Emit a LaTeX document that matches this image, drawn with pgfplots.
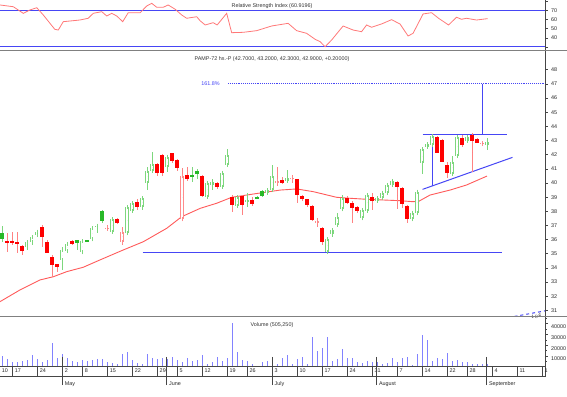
\documentclass[border=0pt]{standalone}
\usepackage{pgfplots}
\pgfplotsset{compat=1.18}
\usepackage{pgfplotstable}
\usepackage{fontspec}
\setmainfont{Liberation Sans}
\definecolor{ghc}{RGB}{125,215,125}
\definecolor{gfc}{RGB}{40,185,40}
\definecolor{rfc}{RGB}{255,0,0}
\definecolor{rwick}{RGB}{255,130,130}
\definecolor{rhc}{RGB}{255,140,140}
\definecolor{bl}{RGB}{70,70,245}
\definecolor{volc}{RGB}{130,130,255}
\definecolor{mac}{RGB}{255,90,90}
\definecolor{rsic}{RGB}{255,120,120}
\definecolor{axc}{RGB}{70,70,70}
\definecolor{sepc}{RGB}{128,128,128}

% green hollow candles: slot, low, high, body low, body high
\pgfplotstableread{
x lo hi blo bhi
3 35.27 35.97 35.45 35.80
4 35.60 36.33 35.85 36.16
5 36.16 36.70 36.33 36.56
10 33.86 35.50 34.53 35.30
11 35.10 35.80 35.20 35.70
14 35.00 35.95 35.10 35.90
16 35.97 36.90 36.03 36.80
17 36.50 37.10 36.94 36.98
20 36.40 37.55 36.56 37.44
23 36.40 38.35 36.45 38.30
24 37.90 38.65 38.04 38.57
26 38.10 39.10 38.33 38.92
27 39.50 41.15 40.02 40.87
28 40.80 42.20 40.87 41.32
31 40.80 41.98 41.10 41.86
39 38.95 40.10 39.03 40.00
40 39.50 40.30 39.86 40.09
42 39.60 40.80 39.74 40.73
43 41.15 42.38 41.27 41.98
45 38.28 39.15 38.38 38.99
47 38.33 39.27 38.73 38.77
51 39.20 39.60 39.30 39.50
52 39.40 41.27 39.50 40.50
55 40.00 40.92 40.16 40.37
63 35.08 36.16 35.15 36.03
64 36.20 36.80 36.40 36.68
65 36.96 37.90 37.03 37.58
66 38.10 39.15 38.14 38.92
70 37.45 38.20 37.50 38.09
71 37.95 39.25 38.04 39.15
73 38.60 39.00 38.75 38.92
74 38.85 39.40 38.92 39.31
75 39.20 39.95 39.27 39.86
76 39.80 40.20 39.86 40.14
80 37.35 38.00 37.44 37.90
81 37.80 39.45 37.86 39.39
82 40.64 42.56 41.39 42.38
83 42.40 42.90 42.56 42.75
84 42.60 43.40 42.68 43.32
88 40.60 41.90 40.64 41.50
89 41.85 43.30 41.91 43.23
91 42.90 43.30 42.99 43.23
95 42.30 43.20 42.70 42.90
}\gh
% green filled candles
\pgfplotstableread{
x lo hi blo bhi
-2 35.85 36.95 36.03 36.50
13 35.30 36.00 35.74 35.97
15 35.85 36.00 35.86 35.94
18 37.20 38.10 37.34 38.04
36 40.10 41.10 40.44 40.56
37 40.30 41.00 40.64 40.85
49 38.90 39.10 38.92 39.02
50 39.00 39.50 39.10 39.40
}\gf
% red filled candles
\pgfplotstableread{
x lo hi blo bhi
-1 35.15 36.50 35.78 35.90
0 35.60 36.55 35.78 35.90
1 35.03 36.55 35.72 35.85
2 34.90 35.60 35.20 35.55
6 35.50 37.00 36.16 36.90
7 35.03 35.97 35.08 35.83
8 33.36 34.90 34.20 34.80
9 33.70 34.30 34.06 34.25
12 35.60 35.95 35.70 35.90
21 37.10 37.55 37.20 37.48
25 38.10 38.90 38.33 38.68
29 40.50 41.40 40.68 41.34
30 40.50 42.05 40.68 41.96
32 41.39 42.14 41.55 42.10
33 40.87 41.67 41.04 41.62
35 40.16 41.13 40.26 40.56
38 39.00 40.60 39.08 40.50
41 39.60 40.05 39.74 39.98
44 37.97 39.15 38.45 39.03
46 37.74 39.15 38.45 39.08
48 38.40 39.00 38.50 38.80
54 39.90 40.40 40.00 40.20
57 38.56 40.30 39.15 40.26
58 38.70 39.15 38.85 39.08
59 38.30 38.90 38.45 38.85
60 37.30 38.45 37.39 38.38
62 35.62 36.91 35.85 36.80
67 38.50 39.10 38.61 38.92
68 37.15 38.70 38.26 38.61
69 37.90 38.35 38.04 38.28
72 38.10 39.27 38.75 39.03
77 38.14 40.15 39.70 40.09
78 38.20 39.74 38.52 39.63
79 37.15 38.45 37.44 38.38
85 42.10 43.30 42.14 43.23
86 41.45 43.10 41.50 43.04
87 40.33 41.50 40.68 41.27
90 42.56 43.39 42.68 43.16
92 40.80 43.50 42.99 43.39
93 42.80 43.15 42.85 43.09
}\rf
% red hollow candles
\pgfplotstableread{
x lo hi blo bhi
19 36.60 37.00 36.78 36.82
22 35.60 36.90 35.85 36.56
34 37.40 41.04 37.44 40.49
53 39.80 41.10 40.08 40.12
56 40.00 40.60 40.31 40.35
61 36.91 37.50 37.25 37.29
94 42.60 43.00 42.78 42.82
}\rh
% moving average
\pgfplotstableread{
x y
-2.46 31.62
1.5 32.44
5.5 33.15
8.2 33.38
10.9 33.74
14.2 34.05
17.5 34.56
22.2 35.27
26.2 35.85
30.9 36.80
33.9 37.62
37.6 38.21
40.9 38.57
43.9 38.99
46.9 39.15
49.9 39.31
53.6 39.50
56.9 39.58
60.2 39.39
62.2 39.22
64.9 38.99
67.6 38.92
70.9 38.85
74.2 38.80
77.6 38.75
80.2 38.68
81.4 38.72
83.6 39.15
87.6 39.50
90.9 39.86
95 40.49
}\ma
% RSI
\pgfplotstableread{
x y
-2.46 75.8
0.2 73.9
2.2 66.7
3.5 70.3
4.9 72.8
6.2 64.9
8.5 49.3
9.2 48.5
10.2 57.6
13.5 59.4
15.2 61.3
16.2 66.7
17.9 68.5
18.9 63.8
19.9 66.7
20.9 63.8
22.1 57.6
23.2 67.4
25.6 67.4
26.9 74.7
27.9 77.6
28.9 73.3
30.2 73.3
31.2 75.8
32.6 71.1
33.9 64.9
34.9 61.3
36.9 63.0
37.6 58.5
38.6 54.0
40.2 56.5
41.0 54.0
42.9 66.7
43.9 45.6
46.2 46.0
48.9 47.8
51.9 52.9
55.2 55.8
56.9 47.8
58.9 44.9
60.6 38.4
61.6 35.8
62.6 30.3
63.9 37.6
66.2 52.9
68.2 48.5
69.9 46.7
70.9 54.0
71.9 51.5
73.9 55.1
75.9 59.8
77.6 55.0
79.2 42.0
80.2 44.9
82.2 66.0
83.9 67.4
85.3 61.3
87.3 54.0
88.9 62.4
89.9 60.2
90.9 61.3
92.9 59.4
95.1 60.9
}\rsi
% volume
\pgfplotstableread{
x v
-2 10120
-1 7080
0 4880
1 4880
2 5800
3 6440
4 11040
5 7080
6 4880
7 6440
8 22360
9 8000
10 11680
11 8000
12 5800
13 4320
14 6440
15 5800
16 6440
17 7080
18 7360
19 4320
20 3960
21 2760
22 11960
23 13520
24 6440
25 3400
26 2760
27 11680
28 8000
29 7360
30 8000
31 7080
32 9200
33 6440
34 4880
35 8000
36 5800
37 6440
38 11040
39 2760
40 4320
41 8920
42 5520
43 8000
44 40760
45 14080
46 6440
47 5800
48 2760
50 4320
51 5520
52 8920
53 2760
54 8000
55 11040
56 2760
57 7080
58 9480
59 2760
60 27320
61 14720
62 17200
63 27880
64 5800
65 7080
66 16280
67 8000
68 8000
69 4320
70 3400
71 5800
72 4320
73 4320
74 2760
75 3960
76 8000
77 4880
78 8000
79 9480
80 1840
81 11680
82 29440
83 24840
84 5520
85 8000
86 7080
87 13160
88 5800
89 6440
90 4880
91 4320
92 2760
93 2760
94 2760
95 2760
}\vol

\newcommand\lbl{\fontsize{5.4}{6}\selectfont}
\pgfplotsset{
  nomark/.style={only marks, mark=*, mark size=0pt, mark options={draw=none, fill=none}},
}
\newcommand\wicks[2]{%
 \addplot[nomark, error bars/.cd, y dir=both, y explicit, error mark=none,
   error bar style={draw=#2, line width=0.9pt}]
  table[x=x, y expr={(\thisrow{hi}+\thisrow{lo})/2}, y error expr={(\thisrow{hi}-\thisrow{lo})/2}] {#1};}
\newcommand\bodies[3]{%
 \addplot[nomark, error bars/.cd, y dir=both, y explicit, error mark=none,
   error bar style={draw=#2, line width=#3}]
  table[x=x, y expr={(\thisrow{bhi}+\thisrow{blo})/2}, y error expr={(\thisrow{bhi}-\thisrow{blo})/2}] {#1};}
\newcommand\hollow[2]{%
 \addplot[nomark, error bars/.cd, y dir=both, y explicit, error mark=-,
   error bar style={draw=white, line width=2.5pt},
   error mark options={draw=#2, fill=none, line width=0.8pt, mark size=2.05pt}]
  table[x=x, y expr={(\thisrow{bhi}+\thisrow{blo})/2}, y error expr={(\thisrow{bhi}-\thisrow{blo})/2}] {#1};}

\pgfplotsset{
  panel/.style={scale only axis, width=545pt, xmin=-2.4615, xmax=106.604, anchor=south west,
    axis x line*=bottom, axis y line*=right, xtick=\empty,
    axis line style={axc, line width=0.8pt},
    tick style={axc, line width=0.6pt}, tick align=outside, major tick length=2.5pt, minor tick length=1.5pt,
    tick label style={font=\lbl, text=black!85},
    /pgf/number format/assume math mode=true,
    after end axis/.code={\draw[sepc, line width=1.4pt] (rel axis cs:0,0) -- ++(567pt,0);}},
}

\begin{document}
\begin{tikzpicture}
\useasboundingbox (0,0) rectangle (567pt,396pt);

% ---------------- RSI panel
\begin{axis}[panel, at={(0pt,345.3pt)}, height=50.7pt, ymin=25.97, ymax=81.23,
  ytick={30,40,50,60,70,80}, yticklabels={,40,50,60,70,}]
\addplot[bl, line width=1pt] coordinates {(-2.5,70) (106.7,70)};
\addplot[bl, line width=1pt] coordinates {(-2.5,30) (106.7,30)};
\addplot[rsic, line width=0.8pt] table[x=x,y=y] {\rsi};
\node[font=\lbl, text=black!80] at (axis cs:51.97,74.7) {Relative Strength Index (60.9196)};
\end{axis}

% ---------------- price panel
\begin{axis}[panel, at={(0pt,79.3pt)}, height=266pt, ymin=30.558, ymax=49.343,
  ytick={31,32,...,48}]
\addplot[bl, line width=1pt] coordinates {(26.1,35.1) (98.06,35.1)};
\addplot[bl, line width=1pt] coordinates {(82.1,43.4) (99.0,43.4)};
\addplot[bl, line width=1pt] coordinates {(82.1,39.55) (100.1,41.81)};
\addplot[bl, line width=1pt] coordinates {(84.13,43.4) (84.13,39.8)};
\addplot[bl, line width=1pt] coordinates {(94.06,43.4) (94.06,47.0)};
\addplot[bl, line width=0.9pt, densely dotted] coordinates {(43.17,47.0) (106.7,47.0)};
\addplot[bl, line width=1pt, dashed] coordinates {(99.3,30.5) (106.6,30.97)};
\addplot[mac, line width=0.9pt] table[x=x,y=y] {\ma};
\wicks{\gh}{ghc}
\wicks{\gf}{ghc}
\wicks{\rf}{rwick}
\wicks{\rh}{rwick}
\bodies{\gf}{gfc}{4pt}
\bodies{\rf}{rfc}{4pt}
\bodies{\gh}{ghc}{4.1pt}
\hollow{\gh}{ghc}
\bodies{\rh}{rhc}{4.1pt}
\hollow{\rh}{rhc}
\node[font=\lbl, text=black!80] at (axis cs:51.97,48.757) {PAMP-72 hs.-P (42.7000, 43.2000, 42.3000, 42.9000, +0.20000)};
\node[font=\lbl, text=bl, anchor=east] at (axis cs:42.2,47.0) {161.8\%};
\end{axis}

% ---------------- volume panel
\begin{axis}[panel, at={(0pt,30pt)}, height=49.3pt, ymin=920, ymax=46290,
  ytick={10000,20000,30000,40000}, yticklabels={10000,20000,30000,40000},
  minor ytick={5000,15000,25000,35000,45000},
  yticklabel style={yshift=-3pt},
  after end axis/.code={}]
\addplot[ycomb, volc, line width=1pt] table[x=x,y=v] {\vol};
\node[font=\lbl, text=black!80] at (axis cs:51.97,38650) {Volume (505,250)};
\end{axis}
\draw[sepc, line width=1.4pt] (0pt,79.3pt) -- (567pt,79.3pt);

% ---------------- date axis (days)
\begin{axis}[scale only axis, anchor=south west, at={(-15pt,20pt)}, width=560pt, height=10pt,
  xmin=-5.4633, xmax=106.604, ymin=0, ymax=1, ytick=\empty,
  axis line style={axc, line width=0.8pt},
  xtick={-2.6,0,5,10,14,19,24,29,33,38,43,47,52,57,62,67,72,77,82,87,91,96,101,106},
  xticklabels={10,17,24,2,8,15,22,29,5,12,19,26,3,10,17,24,31,7,14,22,28,4,11,1},
  xmajorgrids, major grid style={axc, line width=0.6pt}, major tick length=0pt,
  xticklabel style={font=\lbl, text=black!85, anchor=west, yshift=5pt, xshift=-1pt}]
\end{axis}
% ---------------- date axis (months)
\begin{axis}[scale only axis, anchor=south west, at={(-15pt,20pt)}, width=560pt, height=10pt,
  xmin=-5.4633, xmax=106.604, ymin=0, ymax=1, ytick=\empty,
  axis line style={draw=none},
  xtick={10,30.9,52,72.9,94.9},
  xticklabels={May,June,July,August,September},
  xmajorgrids, major grid style={axc, line width=0.6pt},
  tick style={axc, line width=0.6pt}, tick align=outside, major tick length=9pt,
  xticklabel style={font=\lbl, text=black!85, anchor=north west, yshift=7pt, xshift=-1pt}]
\end{axis}
\end{tikzpicture}
\end{document}
